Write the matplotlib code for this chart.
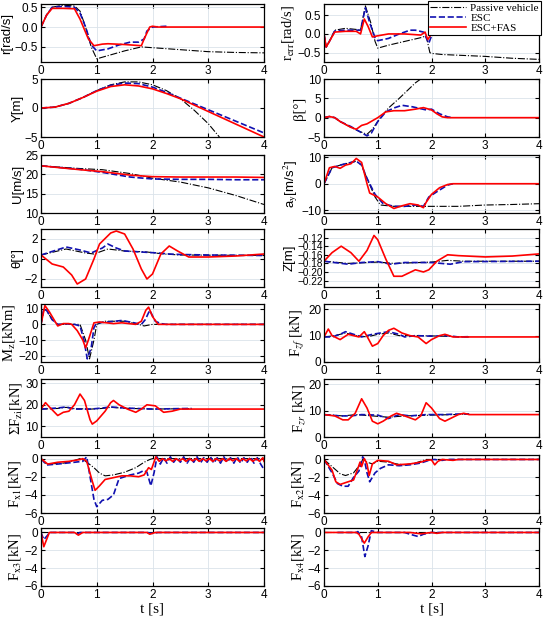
import numpy as np
import matplotlib
matplotlib.use("Agg")
import matplotlib.pyplot as plt

plt.rcParams['font.family'] = ['Liberation Sans', 'DejaVu Sans']
plt.rcParams['mathtext.fontset'] = 'stix'

# ---------------- data ----------------
# r [rad/s]
r_pas_t = [0, 0.1, 0.2, 0.4, 0.6, 0.7, 0.8, 0.9, 1.0, 1.2, 1.5, 1.8, 2.0, 2.5, 3.0, 3.5, 4.0]
r_pas = [0, 0.3, 0.5, 0.55, 0.53, 0.4, 0.0, -0.5, -0.8, -0.72, -0.6, -0.5, -0.52, -0.57, -0.62, -0.64, -0.65]
r_esc_t = [0, 0.1, 0.2, 0.4, 0.6, 0.7, 0.8, 0.9, 1.0, 1.2, 1.4, 1.6, 1.75, 1.85, 1.9, 2.0, 2.25]
r_esc = [0, 0.3, 0.5, 0.52, 0.5, 0.35, 0.0, -0.45, -0.6, -0.55, -0.45, -0.38, -0.38, -0.3, -0.1, 0.0, 0.02]
r_fas_t = [0, 0.1, 0.2, 0.4, 0.6, 0.7, 0.85, 0.95, 1.1, 1.2, 1.5, 1.8, 1.85, 1.95, 2.0, 2.1, 4.0]
r_fas = [0, 0.3, 0.47, 0.47, 0.46, 0.2, -0.3, -0.47, -0.43, -0.42, -0.44, -0.47, -0.3, 0.0, 0.02, 0.0, 0.0]

# Y [m]
y_t = [0, 0.25, 0.5, 0.75, 1.0, 1.25, 1.5, 1.75, 2.0, 2.25, 2.5, 3.0, 3.5, 4.0]
y_pas_t = [0, 0.25, 0.5, 0.75, 1.0, 1.25, 1.5, 1.75, 2.0, 2.25, 2.5, 2.75, 3.0, 3.2]
y_pas = [0, 0.15, 0.8, 1.8, 3.0, 4.0, 4.5, 4.5, 4.0, 3.0, 1.6, -0.4, -2.7, -5.0]
y_esc = [0, 0.15, 0.8, 1.8, 3.0, 3.9, 4.3, 4.2, 3.6, 2.7, 1.7, -0.3, -2.3, -4.3]
y_fas = [0, 0.15, 0.8, 1.8, 2.9, 3.7, 4.0, 3.8, 3.3, 2.5, 1.6, -0.6, -2.8, -5.0]

# U [m/s]
u_t = [0, 0.7, 1.1, 1.6, 2.0, 2.5, 3.0, 3.5, 4.0]
u_pas = [22.2, 21.5, 21.2, 20.2, 19.0, 18.0, 16.5, 14.5, 12.2]
u_esc = [22.2, 21.3, 20.5, 19.3, 18.8, 18.7, 18.7, 18.6, 18.6]
u_fas = [22.2, 21.2, 20.7, 19.8, 19.4, 19.3, 19.3, 19.3, 19.2]

# theta [deg]
th_pas_t = [0, 0.45, 0.8, 0.95, 1.2, 1.5, 1.9, 2.2, 2.5, 4.0]
th_pas = [0.4, 1.0, 0.6, 0.5, 1.0, 0.8, 0.7, 0.5, 0.4, 0.35]
th_esc_t = [0, 0.45, 0.7, 0.9, 1.1, 1.2, 1.35, 1.5, 1.8, 2.1, 2.3, 2.5, 3.0, 4.0]
th_esc = [0.4, 1.2, 0.9, 0.6, 1.1, 1.5, 1.1, 0.8, 0.7, 0.6, 0.5, 0.45, 0.4, 0.35]
th_fas_t = [0, 0.2, 0.4, 0.55, 0.65, 0.8, 0.95, 1.05, 1.25, 1.35, 1.5, 1.65, 1.8, 1.9, 2.0, 2.15, 2.3, 2.45, 2.65, 3.0, 3.5, 4.0]
th_fas = [0.4, -0.5, -0.8, -1.6, -2.5, -2.0, 0.0, 1.5, 2.6, 2.8, 2.5, 1.0, -1.0, -2.0, -1.5, 0.5, 1.3, 0.8, 0.2, 0.2, 0.3, 0.5]

# Mz [kNm]
mz_pas_t = [0, 0.05, 0.1, 0.2, 0.3, 0.7, 0.8, 0.87, 0.95, 1.0, 1.15, 1.5, 1.75, 1.85, 2.0, 4.0]
mz_pas = [0, 9.5, 9, 3, 0, 0, -10, -22, -10, 0, 2, 2, 0, -1, 0, 0]
mz_esc_t = [0, 0.05, 0.1, 0.2, 0.3, 0.5, 0.6, 0.7, 0.77, 0.83, 0.9, 0.95, 1.0, 1.2, 1.45, 1.6, 1.8, 1.87, 1.95, 2.05, 2.15, 2.25, 4.0]
mz_esc = [0, 10, 9, 3, 0, 0.3, 0, -1, -10, -22, -15, -2, 1, 1.5, 2.5, 1.5, 0, 3, 9, 2, 0.5, 0, 0]
mz_fas_t = [0, 0.07, 0.15, 0.25, 0.3, 0.4, 0.5, 0.55, 0.65, 0.75, 0.8, 0.85, 0.95, 1.05, 1.3, 1.45, 1.7, 1.8, 1.88, 1.93, 2.0, 2.1, 4.0]
mz_fas = [0, 12, 8, 2, -1, 0.5, 0.5, 0, -4, -10, -15, -10, 1, 1.5, 0.5, 1, 0, 2, 9, 11, 5, 0, 0]

# Sum Fzi [kN]
fzi_t = [0, 0.3, 0.45, 0.6, 0.9, 1.1, 1.25, 1.5, 2.0, 2.7]
fzi_pas = [18, 18.3, 18.8, 18.2, 18, 18.3, 18.8, 18.4, 18, 18.2]
fzi_esc = [18, 18.5, 19, 18, 18, 18.5, 19, 18.5, 18, 18.3]
fzi_fas_t = [0, 0.08, 0.15, 0.3, 0.4, 0.5, 0.6, 0.7, 0.78, 0.88, 0.92, 1.0, 1.15, 1.25, 1.3, 1.4, 1.55, 1.7, 1.8, 1.9, 2.05, 2.2, 2.35, 2.5, 4.0]
fzi_fas = [18, 21, 19, 15, 16.5, 17, 20, 25, 22, 13, 11, 12.5, 17, 21, 22, 20, 18, 16.5, 18, 20, 19.5, 16.5, 17, 18, 18]

# Fx1 [kN]
fx1_pas_t = [0, 0.1, 0.4, 0.6, 0.7, 0.8, 0.95, 1.05, 1.15, 1.3, 1.5, 1.7, 1.85, 1.95, 2.0, 4.0]
fx1_pas = [0, -0.6, -0.5, -0.2, 0, -0.3, -1.0, -1.6, -1.9, -1.8, -1.5, -1.0, -0.4, -0.1, 0, 0]
fx1_esc_t = [0, 0.1, 0.3, 0.6, 0.75, 0.82, 0.88, 0.95, 1.0, 1.1, 1.2, 1.3, 1.4, 1.6, 1.75, 1.85, 1.9, 1.97, 2.03, 2.08,
             2.14, 2.2, 2.26, 2.32, 2.38, 2.44, 2.5, 2.56, 2.62, 2.68, 2.74, 2.8, 2.86, 2.92, 2.98, 3.04, 3.1, 3.16,
             3.22, 3.28, 3.34, 3.4, 3.46, 3.52, 3.58, 3.64, 3.7, 3.76, 3.82, 3.88, 3.94, 4.0]
fx1_esc = [0, -0.7, -0.6, -0.4, -0.3, 0.2, -2.0, -4.5, -5.3, -4.6, -4.5, -4.0, -2.2, -1.8, -1.6, -1.3, -1.5, -3.0, -1.5, 0.2,
           -0.6, 0.1, -0.5, 0.2, -0.4, 0.1, -0.4, 0.2, -0.5, 0.1, -0.4, 0.2, -0.5, 0.1, -0.4, 0.2, -0.5, 0.1,
           -0.5, 0.2, -0.4, 0.1, -0.5, 0.2, -0.5, 0.1, -0.4, 0.2, -0.5, 0.1, -0.6, -1.2]
fx1_fas_t = [0, 0.12, 0.3, 0.5, 0.7, 0.75, 0.82, 0.92, 0.97, 1.05, 1.15, 1.3, 1.45, 1.6, 1.75, 1.85, 1.93, 1.98, 2.02, 2.06,
             2.12, 2.18, 2.24, 2.3, 2.36, 2.42, 2.48, 2.54, 2.6, 2.66, 2.72, 2.78, 2.84, 2.9, 2.96, 3.02, 3.08, 3.14,
             3.2, 3.26, 3.32, 3.38, 3.44, 3.5, 3.56, 3.62, 3.68, 3.74, 3.8, 3.86, 3.92, 3.98, 4.0]
fx1_fas = [0, -0.6, -0.4, -0.3, -0.1, 0, -0.3, -2.5, -3.5, -3.0, -2.3, -2.1, -1.9, -1.9, -2.0, -1.8, -1.0, -1.2, -0.5, 0.2,
           -0.3, 0, -0.25, 0, -0.3, 0, -0.25, 0, -0.3, 0, -0.25, 0, -0.3, 0, -0.25, 0, -0.3, 0,
           -0.25, 0, -0.3, 0, -0.25, 0, -0.3, 0, -0.25, 0, -0.3, 0, -0.3, 0.1, -0.3]

# Fx3 [kN]
fx3_pas_t = [0, 4.0]
fx3_pas = [0.05, 0.05]
fx3_esc_t = [0, 0.05, 0.12, 0.15, 0.6, 0.65, 0.7, 1.9, 2.0, 2.1, 4.0]
fx3_esc = [0, -0.8, -0.3, 0, 0, -0.15, 0, 0, -0.1, 0, 0]
fx3_fas_t = [0, 0.05, 0.1, 0.15, 0.6, 0.67, 0.75, 1.9, 1.95, 2.05, 4.0]
fx3_fas = [0, -1.6, -0.8, 0, 0, -0.3, 0, 0, -0.2, 0, 0]

# r_err [rad/s]
re_pas_t = [0, 0.04, 0.1, 0.2, 0.4, 0.6, 0.68, 0.77, 0.87, 0.95, 1.0, 1.2, 1.5, 1.8, 1.9, 1.97, 2.0, 2.2, 3.0, 3.5, 4.0]
re_pas = [0, -0.35, -0.2, 0.1, 0.15, 0.12, 0.1, 0.75, 0.3, -0.2, -0.38, -0.3, -0.2, -0.1, -0.05, -0.5, -0.52, -0.55, -0.6, -0.65, -0.68]
re_esc_t = [0, 0.04, 0.1, 0.2, 0.4, 0.6, 0.68, 0.77, 0.85, 0.95, 1.0, 1.2, 1.4, 1.6, 1.7, 1.85, 1.95, 2.0, 2.1, 2.2]
re_esc = [0, -0.35, -0.2, 0.08, 0.1, 0.1, 0.1, 0.7, 0.3, -0.1, -0.18, -0.12, 0.0, 0.1, 0.1, 0.05, -0.25, -0.05, 0.02, 0]
re_fas_t = [0, 0.04, 0.1, 0.2, 0.4, 0.6, 0.68, 0.75, 0.82, 0.9, 1.0, 1.2, 1.5, 1.8, 1.88, 1.93, 2.0, 2.05, 2.15, 4.0]
re_fas = [0, -0.35, -0.2, 0.05, 0.07, 0.07, 0.0, 0.4, 0.2, -0.08, -0.05, 0.0, 0.0, -0.03, 0.05, -0.15, 0.0, 0.05, 0, 0]

# beta [deg]
be_pas_t = [0, 0.1, 0.2, 0.3, 0.5, 0.65, 0.8, 0.9, 1.05, 1.2, 1.4, 1.55, 1.7, 1.8, 1.9]
be_pas = [0, 0.3, 0, -1, -2.5, -3.5, -4.3, -3, 0, 2.5, 5, 7, 9, 10, 11]
be_esc_t = [0, 0.1, 0.2, 0.3, 0.5, 0.65, 0.8, 0.88, 1.0, 1.15, 1.3, 1.45, 1.65, 1.9, 2.0, 2.15, 2.3, 2.4]
be_esc = [0, 0.3, 0, -1, -2.3, -3.5, -4.7, -4, -1, 1.5, 2.5, 3.2, 2.8, 2.0, 2.2, 1.0, 0.2, 0]
be_fas_t = [0, 0.1, 0.2, 0.3, 0.5, 0.6, 0.7, 0.8, 1.0, 1.15, 1.3, 1.5, 1.7, 1.85, 2.0, 2.1, 2.2, 2.3, 4.0]
be_fas = [0, 0.3, 0, -1, -2.5, -3.0, -2.0, -1.6, 0, 1.5, 1.8, 1.8, 2.2, 2.6, 2.0, 1.0, 0.2, 0, 0]

# a_y [m/s^2]
ay_pas_t = [0, 0.15, 0.3, 0.5, 0.6, 0.7, 0.8, 0.95, 1.05, 1.3, 1.8, 2.0, 2.5, 3.0, 3.5, 4.0]
ay_pas = [0, 6, 7, 8, 8.5, 7, 2, -5, -8, -8.5, -8.5, -8.5, -8.5, -8, -7.8, -7.5]
ay_esc_t = [0, 0.15, 0.3, 0.5, 0.6, 0.7, 0.8, 0.95, 1.1, 1.3, 1.5, 1.7, 1.85, 1.95, 2.1, 2.3, 2.4]
ay_esc = [0, 6, 7, 8, 8.5, 7, 2, -4, -7.5, -8.5, -8.5, -8, -8.5, -5, -3, -0.5, 0]
ay_fas_t = [0, 0.1, 0.2, 0.3, 0.4, 0.5, 0.6, 0.7, 0.8, 0.85, 1.0, 1.15, 1.3, 1.45, 1.6, 1.75, 1.85, 1.9, 2.0, 2.15, 2.3, 2.4, 4.0]
ay_fas = [0, 6, 6.5, 5.8, 7, 7.5, 9.5, 8, 0, -3.5, -5, -7.5, -9.3, -8.3, -7.5, -8, -9, -7, -4, -1.5, -0.3, 0, 0]

# Z [m]
z_pas_t = [0, 0.45, 1.0, 1.3, 2.0, 2.3, 2.6, 4.0]
z_pas = [-0.175, -0.18, -0.177, -0.18, -0.177, -0.173, -0.175, -0.175]
z_esc_t = [0, 0.45, 0.7, 1.0, 1.25, 1.5, 2.0, 2.35, 2.6, 4.0]
z_esc = [-0.175, -0.182, -0.178, -0.176, -0.182, -0.178, -0.178, -0.182, -0.176, -0.175]
z_fas_t = [0, 0.15, 0.32, 0.5, 0.65, 0.8, 0.93, 1.0, 1.15, 1.3, 1.45, 1.7, 1.85, 1.95, 2.1, 2.3, 2.5, 3.0, 3.5, 4.0]
z_fas = [-0.175, -0.155, -0.14, -0.155, -0.175, -0.15, -0.115, -0.125, -0.17, -0.21, -0.21, -0.195, -0.2, -0.195, -0.175, -0.16, -0.162, -0.165, -0.163, -0.158]

# Fzf [kN]
fzf_pas_t = [0, 0.2, 0.4, 0.6, 0.8, 1.0, 1.2, 1.4, 1.8, 2.2, 2.7]
fzf_pas = [9.5, 10, 11, 10, 9.5, 10.5, 11, 10, 10, 9.8, 9.5]
fzf_esc_t = [0, 0.15, 0.3, 0.4, 0.55, 0.7, 0.9, 1.2, 1.4, 1.5, 1.7, 2.0, 2.3, 2.5, 2.7]
fzf_esc = [9.5, 9.5, 10.5, 11.5, 10.5, 9.5, 10.5, 11.5, 10.5, 9.5, 10, 9.8, 10, 9.5, 9.6]
fzf_fas_t = [0, 0.08, 0.15, 0.3, 0.45, 0.55, 0.65, 0.75, 0.82, 0.9, 1.0, 1.1, 1.2, 1.3, 1.45, 1.6, 1.75, 1.9, 2.0, 2.15, 2.25, 2.4, 2.6, 4.0]
fzf_fas = [9.5, 12.5, 10, 8.5, 10.5, 10, 9.5, 11.5, 9, 6, 7, 10, 12, 12.8, 11, 10, 9.5, 7, 8.5, 10, 10.5, 9.5, 9.5, 9.5]

# Fzr [kN]
fzr_pas_t = [0, 0.35, 0.6, 0.9, 1.2, 1.5, 2.0, 2.4, 2.7]
fzr_pas = [8.5, 8, 8.5, 8, 7.5, 8, 8.3, 8.5, 8.7]
fzr_esc_t = [0, 0.3, 0.5, 0.7, 1.0, 1.2, 1.4, 1.6, 1.9, 2.2, 2.5, 2.7]
fzr_esc = [8.5, 8, 8, 8.5, 8.3, 7, 8.5, 8, 8.5, 8.5, 8.7, 8.7]
fzr_fas_t = [0, 0.2, 0.35, 0.45, 0.58, 0.7, 0.8, 0.9, 1.0, 1.1, 1.25, 1.35, 1.5, 1.7, 1.8, 1.9, 2.0, 2.15, 2.25, 2.4, 2.5, 2.6, 2.7, 4.0]
fzr_fas = [8.5, 8, 6.5, 6.5, 9, 14.5, 11, 6, 5, 6, 8, 9, 8, 6.5, 8, 13, 11, 7, 6, 7.5, 8.5, 9, 8.5, 8.5]

# Fx2 [kN]
fx2_pas_t = [0, 0.15, 0.3, 0.4, 0.55, 0.68, 0.72, 0.8, 0.9, 1.0, 1.2, 1.35, 1.5, 1.7, 1.9, 4.0]
fx2_pas = [0, -0.8, -1.6, -1.8, -1.5, -0.5, 0, -0.3, -0.5, -0.2, -0.3, -0.5, -0.6, -0.4, 0, 0]
fx2_esc_t = [0, 0.15, 0.25, 0.35, 0.45, 0.55, 0.65, 0.72, 0.75, 0.8, 0.85, 0.95, 1.05, 1.2, 1.4, 1.6, 1.8, 1.95, 2.05, 2.2, 2.3, 4.0]
fx2_esc = [0, -1.5, -2.7, -3.0, -3.0, -2.0, -1.3, 0.3, 0, -1.5, -2.5, -1.5, -1.0, -0.6, -0.7, -0.6, -0.4, -0.1, 0, -0.1, 0, 0]
fx2_fas_t = [0, 0.15, 0.22, 0.3, 0.45, 0.55, 0.63, 0.67, 0.7, 0.75, 0.8, 0.84, 0.9, 1.0, 1.2, 1.35, 1.6, 1.8, 1.9, 2.0, 2.06, 2.12, 2.2, 2.4, 2.5, 4.0]
fx2_fas = [0, -1.2, -2.5, -2.8, -2.5, -2.3, -1.0, -0.3, -0.8, 0.1, -0.5, -1.8, -0.5, -0.1, -0.2, -0.6, -0.5, -0.3, -0.1, -0.05, -0.6, -0.2, 0, -0.1, 0, 0]

# Fx4 [kN]
fx4_pas_t = [0, 4.0]
fx4_pas = [0.05, 0.05]
fx4_esc_t = [0.25, 0.6, 0.63, 0.7, 0.76, 0.82, 0.88, 1.0, 1.5, 1.6, 1.75, 1.85, 2.0, 4.0]
fx4_esc = [0, 0, 0.1, -0.5, -2.7, -1.5, 0.2, 0, 0, -0.2, -0.45, -0.2, 0, 0]
fx4_fas_t = [0, 0.6, 0.65, 0.75, 0.82, 0.88, 1.6, 1.8, 2.0, 2.1, 2.2, 4.0]
fx4_fas = [0, 0, -0.2, -1.2, -0.5, 0, 0, -0.15, 0, -0.1, 0, 0]

# ---------------- panels ----------------
left_panels = [
    ((r_pas_t, r_pas), (r_esc_t, r_esc), (r_fas_t, r_fas), 'r[rad/s]', 'sans', (-0.88, 0.58), [-0.5, 0, 0.5]),
    ((y_pas_t, y_pas), (y_t, y_esc), (y_t, y_fas), 'Y[m]', 'sans', (-5, 5), [-5, 0, 5]),
    ((u_t, u_pas), (u_t, u_esc), (u_t, u_fas), 'U[m/s]', 'sans', (10, 25), [10, 15, 20, 25]),
    ((th_pas_t, th_pas), (th_esc_t, th_esc), (th_fas_t, th_fas), 'θ[°]', 'sans', (-2.8, 3.0), [-2, 0, 2]),
    ((mz_pas_t, mz_pas), (mz_esc_t, mz_esc), (mz_fas_t, mz_fas), r'M$_\mathrm{z}$[kNm]', 'serif', (-24, 13), [-20, -10, 0, 10]),
    ((fzi_t, fzi_pas), (fzi_t, fzi_esc), (fzi_fas_t, fzi_fas), r'ΣF$_\mathrm{zi}$[kN]', 'serif', (5, 32), [10, 20, 30]),
    ((fx1_pas_t, fx1_pas), (fx1_esc_t, fx1_esc), (fx1_fas_t, fx1_fas), r'F$_\mathrm{x1}$[kN]', 'serif', (-6, 0.4), [-6, -4, -2, 0]),
    ((fx3_pas_t, fx3_pas), (fx3_esc_t, fx3_esc), (fx3_fas_t, fx3_fas), r'F$_\mathrm{x3}$[kN]', 'serif', (-6, 0.5), [-6, -4, -2, 0]),
]
right_panels = [
    ((re_pas_t, re_pas), (re_esc_t, re_esc), (re_fas_t, re_fas), r'r$_\mathrm{err}$[rad/s]', 'serif', (-0.75, 0.8), [-0.5, 0, 0.5]),
    ((be_pas_t, be_pas), (be_esc_t, be_esc), (be_fas_t, be_fas), 'β[°]', 'serif', (-5, 10), [-5, 0, 5, 10]),
    ((ay_pas_t, ay_pas), (ay_esc_t, ay_esc), (ay_fas_t, ay_fas), r'a$_\mathrm{y}$[m/s$^2$]', 'sans', (-11, 10.8), [-10, 0, 10]),
    ((z_pas_t, z_pas), (z_esc_t, z_esc), (z_fas_t, z_fas), 'Z[m]', 'sans', (-0.235, -0.10), [-0.22, -0.2, -0.18, -0.16, -0.14, -0.12]),
    ((fzf_pas_t, fzf_pas), (fzf_esc_t, fzf_esc), (fzf_fas_t, fzf_fas), r'F$_{zf}$ [kN]', 'serif', (0, 22), [0, 10, 20]),
    ((fzr_pas_t, fzr_pas), (fzr_esc_t, fzr_esc), (fzr_fas_t, fzr_fas), r'F$_{zr}$ [kN]', 'serif', (0, 22), [0, 10, 20]),
    ((fx2_pas_t, fx2_pas), (fx2_esc_t, fx2_esc), (fx2_fas_t, fx2_fas), r'F$_\mathrm{x2}$[kN]', 'serif', (-6, 0.5), [-6, -4, -2, 0]),
    ((fx4_pas_t, fx4_pas), (fx4_esc_t, fx4_esc), (fx4_fas_t, fx4_fas), r'F$_\mathrm{x4}$[kN]', 'serif', (-6, 0.5), [-6, -4, -2, 0]),
]

W, H = 544, 617
row_tops = [4, 79, 155, 229, 304, 379, 455, 528]
row_h = 58
col_x = [(41, 264), (324, 539)]

fig = plt.figure(figsize=(W / 100, H / 100), dpi=100)
fig.patch.set_facecolor('white')

handles = None
for col, panels in enumerate([left_panels, right_panels]):
    x0, x1 = col_x[col]
    for row, (pas, esc, fas, label, fam, ylim, yticks) in enumerate(panels):
        ax = fig.add_axes([x0 / W, 1 - (row_tops[row] + row_h) / H, (x1 - x0) / W, row_h / H])
        l1, = ax.plot(pas[0], pas[1], '-.', color='black', lw=0.8, label='Passive vehicle')
        l2, = ax.plot(esc[0], esc[1], '--', color='#1010b0', lw=1.2, label='ESC')
        l3, = ax.plot(fas[0], fas[1], '-', color='red', lw=1.2, label='ESC+FAS')
        if handles is None:
            handles = [l1, l2, l3]
        ax.set_xlim(0, 4)
        ax.set_ylim(*ylim)
        ax.set_xticks([0, 1, 2, 3, 4])
        ax.set_yticks(yticks)
        ax.grid(True, color='#dbe3ea', lw=0.6)
        ax.set_axisbelow(True)
        ax.tick_params(direction='in', length=3, labelsize=8.5, top=True, right=True, pad=2)
        if len(yticks) > 4:
            ax.tick_params(axis='y', labelsize=7.2, pad=1)
        for s in ax.spines.values():
            s.set_linewidth(0.9)
        if fam == 'serif':
            ax.set_ylabel(label, family=['Liberation Serif', 'DejaVu Serif'], fontsize=10.5, labelpad=1)
        else:
            ax.set_ylabel(label, fontsize=9.5, labelpad=1)
        if row == 7:
            ax.set_xlabel('t [s]', family=['Liberation Serif', 'DejaVu Serif'], fontsize=11, labelpad=1)

leg = fig.legend(handles, ['Passive vehicle', 'ESC', 'ESC+FAS'], loc='upper right',
                 bbox_to_anchor=(541 / W, 1 - 1 / H), prop={'family': 'Liberation Serif', 'size': 8},
                 fancybox=False, framealpha=1, edgecolor='black', borderpad=0.2, labelspacing=0.0,
                 handlelength=3.2, handletextpad=0.4, borderaxespad=0)
leg.get_frame().set_linewidth(0.8)

fig.savefig('out.png', dpi=100)
